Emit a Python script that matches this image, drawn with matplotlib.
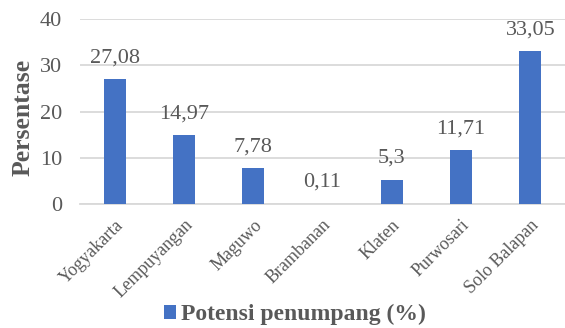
import matplotlib
matplotlib.use("Agg")
import matplotlib.pyplot as plt
import matplotlib.transforms as mtransforms

stasiun = ['Yogyakarta', 'Lempuyangan', 'Maguwo', 'Brambanan', 'Klaten', 'Purwosari', 'Solo Balapan']
potensi = [27.08, 14.97, 7.78, 0.11, 5.3, 11.71, 33.05]
label_teks = ['27,08', '14,97', '7,78', '0,11', '5,3', '11,71', '33,05']

plt.rcParams['font.family'] = ['Liberation Serif', 'DejaVu Serif']
abu = '#595959'

fig = plt.figure(figsize=(5.65, 3.28), dpi=100)
ax = fig.add_axes([0.1416, 0.378, 0.8584, 0.564])

x = range(len(stasiun))
bars = ax.bar(x, potensi, width=0.32, color='#4472C4', zorder=3, label='Potensi penumpang (%)')
for i, b in enumerate(bars):
    ax.annotate(label_teks[i], (b.get_x() + b.get_width() / 2, b.get_height()),
                xytext=(0, 12), textcoords='offset points',
                ha='center', va='baseline', fontsize=16, color=abu)

ax.set_ylim(0, 40)
ax.set_xlim(-0.5, len(stasiun) - 0.5)
ax.set_yticks([0, 10, 20, 30, 40])
ax.yaxis.grid(True, color='#d9d9d9', linewidth=1.3, zorder=0)
ax.set_xticks(list(x))
ax.set_xticklabels(stasiun, rotation=45, ha='right', rotation_mode='anchor', fontsize=13, color=abu)
# geser label sumbu x sedikit ke kanan
geser = mtransforms.ScaledTranslation(4 / 72, 0, fig.dpi_scale_trans)
for lbl in ax.get_xticklabels():
    lbl.set_transform(lbl.get_transform() + geser)
ax.tick_params(axis='y', labelsize=16, labelcolor=abu, length=0, pad=13)
ax.tick_params(axis='x', length=0, pad=9)
for s in ['top', 'right', 'left']:
    ax.spines[s].set_visible(False)
ax.spines['bottom'].set_color('#d9d9d9')
ax.spines['bottom'].set_linewidth(1.3)

ax.set_ylabel('Persentase', fontsize=18.5, fontweight='bold', color=abu)
ax.yaxis.set_label_coords(-0.093, 0.47)

leg = fig.legend(loc='center', bbox_to_anchor=(0.522, 0.04), frameon=False,
                 prop={'size': 17, 'weight': 'bold'}, handlelength=0.5, handleheight=0.5,
                 handletextpad=0.2, borderpad=0)
for t in leg.get_texts():
    t.set_color(abu)

fig.savefig('out.png', dpi=100)
